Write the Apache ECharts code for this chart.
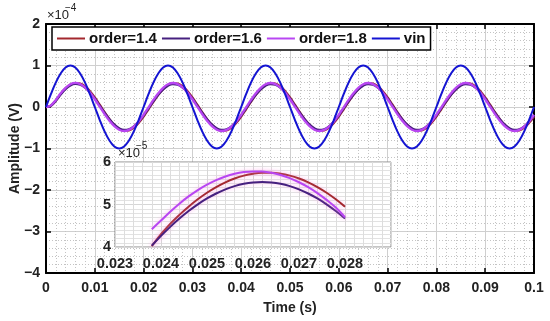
<!DOCTYPE html>
<html>
<head>
<meta charset="utf-8">
<script src="https://cdn.jsdelivr.net/npm/echarts@6/dist/echarts.min.js"></script>
<style>
html,body{margin:0;padding:0;background:#fff;}
#chart{width:550px;height:321px;}
</style>
</head>
<body>
<div id="chart"></div>
<script>
// ---- data (main plot: amplitude in units of 1e-4 V) ----
var time = [0,0.001,0.002,0.003,0.004,0.005,0.006,0.007,0.008,0.009,
0.010,0.011,0.012,0.013,0.014,0.015,0.016,0.017,0.018,0.019,
0.020,0.021,0.022,0.023,0.024,0.025,0.026,0.027,0.028,0.029,
0.030,0.031,0.032,0.033,0.034,0.035,0.036,0.037,0.038,0.039,
0.040,0.041,0.042,0.043,0.044,0.045,0.046,0.047,0.048,0.049,
0.050,0.051,0.052,0.053,0.054,0.055,0.056,0.057,0.058,0.059,
0.060,0.061,0.062,0.063,0.064,0.065,0.066,0.067,0.068,0.069,
0.070,0.071,0.072,0.073,0.074,0.075,0.076,0.077,0.078,0.079,
0.080,0.081,0.082,0.083,0.084,0.085,0.086,0.087,0.088,0.089,
0.090,0.091,0.092,0.093,0.094,0.095,0.096,0.097,0.098,0.099,0.100];

var vin = [0,0.309,0.588,0.809,0.951,1,0.951,0.809,0.588,0.309,0,-0.309,-0.588,-0.809,-0.951,-1,-0.951,-0.809,-0.588,-0.309,
0,0.309,0.588,0.809,0.951,1,0.951,0.809,0.588,0.309,0,-0.309,-0.588,-0.809,-0.951,-1,-0.951,-0.809,-0.588,-0.309,
0,0.309,0.588,0.809,0.951,1,0.951,0.809,0.588,0.309,0,-0.309,-0.588,-0.809,-0.951,-1,-0.951,-0.809,-0.588,-0.309,
0,0.309,0.588,0.809,0.951,1,0.951,0.809,0.588,0.309,0,-0.309,-0.588,-0.809,-0.951,-1,-0.951,-0.809,-0.588,-0.309,
0,0.309,0.588,0.809,0.951,1,0.951,0.809,0.588,0.309,0,-0.309,-0.588,-0.809,-0.951,-1,-0.951,-0.809,-0.588,-0.309,0];

var order14 = [0,0.03,0.15,0.31,0.45,0.54,0.575,0.561,0.495,0.380,0.228,0.054,-0.125,-0.293,-0.431,-0.528,-0.572,-0.561,-0.495,-0.380,
-0.228,-0.054,0.125,0.293,0.431,0.528,0.572,0.561,0.495,0.380,0.228,0.054,-0.125,-0.293,-0.431,-0.528,-0.572,-0.561,-0.495,-0.380,
-0.228,-0.054,0.125,0.293,0.431,0.528,0.572,0.561,0.495,0.380,0.228,0.054,-0.125,-0.293,-0.431,-0.528,-0.572,-0.561,-0.495,-0.380,
-0.228,-0.054,0.125,0.293,0.431,0.528,0.572,0.561,0.495,0.380,0.228,0.054,-0.125,-0.293,-0.431,-0.528,-0.572,-0.561,-0.495,-0.380,
-0.228,-0.054,0.125,0.293,0.431,0.528,0.572,0.561,0.495,0.380,0.228,0.054,-0.125,-0.293,-0.431,-0.528,-0.572,-0.561,-0.495,-0.380,-0.228];

var order16 = [0,0.03,0.15,0.30,0.43,0.52,0.555,0.536,0.467,0.352,0.204,0.035,-0.138,-0.296,-0.426,-0.514,-0.552,-0.536,-0.467,-0.352,
-0.204,-0.035,0.138,0.296,0.426,0.514,0.552,0.536,0.467,0.352,0.204,0.035,-0.138,-0.296,-0.426,-0.514,-0.552,-0.536,-0.467,-0.352,
-0.204,-0.035,0.138,0.296,0.426,0.514,0.552,0.536,0.467,0.352,0.204,0.035,-0.138,-0.296,-0.426,-0.514,-0.552,-0.536,-0.467,-0.352,
-0.204,-0.035,0.138,0.296,0.426,0.514,0.552,0.536,0.467,0.352,0.204,0.035,-0.138,-0.296,-0.426,-0.514,-0.552,-0.536,-0.467,-0.352,
-0.204,-0.035,0.138,0.296,0.426,0.514,0.552,0.536,0.467,0.352,0.204,0.035,-0.138,-0.296,-0.426,-0.514,-0.552,-0.536,-0.467,-0.352,-0.204];

var order18 = [0,0.04,0.17,0.33,0.46,0.55,0.58,0.552,0.473,0.347,0.187,0.009,-0.170,-0.332,-0.462,-0.547,-0.578,-0.552,-0.473,-0.347,
-0.187,-0.009,0.170,0.332,0.462,0.547,0.578,0.552,0.473,0.347,0.187,0.009,-0.170,-0.332,-0.462,-0.547,-0.578,-0.552,-0.473,-0.347,
-0.187,-0.009,0.170,0.332,0.462,0.547,0.578,0.552,0.473,0.347,0.187,0.009,-0.170,-0.332,-0.462,-0.547,-0.578,-0.552,-0.473,-0.347,
-0.187,-0.009,0.170,0.332,0.462,0.547,0.578,0.552,0.473,0.347,0.187,0.009,-0.170,-0.332,-0.462,-0.547,-0.578,-0.552,-0.473,-0.347,
-0.187,-0.009,0.170,0.332,0.462,0.547,0.578,0.552,0.473,0.347,0.187,0.009,-0.170,-0.332,-0.462,-0.547,-0.578,-0.552,-0.473,-0.347,-0.187];

// ---- inset data (amplitude in units of 1e-5 V) ----
var insetTime = [0.0238,0.0240,0.0242,0.0244,0.0246,0.0248,0.0250,0.0252,0.0254,0.0256,0.0258,
0.0260,0.0262,0.0264,0.0266,0.0268,0.0270,0.0272,0.0274,0.0276,0.0278,0.0280];
var inset14 = [4.02,4.30,4.544,4.756,4.949,5.123,5.277,5.410,5.522,5.611,5.679,5.725,5.747,5.747,5.725,5.679,5.611,5.522,5.410,5.277,5.123,4.949];
var inset16 = [4.031,4.261,4.474,4.669,4.846,5.004,5.142,5.259,5.356,5.432,5.486,5.519,5.530,5.519,5.486,5.432,5.356,5.259,5.142,5.004,4.846,4.669];
var inset18 = [4.42,4.622,4.831,5.020,5.190,5.340,5.468,5.575,5.660,5.722,5.762,5.779,5.774,5.745,5.694,5.620,5.524,5.407,5.268,5.108,4.928,4.70];

var seriesNames = ['order=1.4','order=1.6','order=1.8','vin'];
var seriesColors = ['#A3282E','#46207F','#B846F2','#1414D2'];

// tick labels
var mainYTicks = {min:-4, max:2, interval:1};
var mainXTicks = {min:0, max:0.1, interval:0.01};
var insetXTicks = {min:0.023, max:0.029, interval:0.001, lastLabel:0.028};
var insetYTicks = {min:4, max:6, interval:1};

function pairs(xs, ys){ return xs.map(function(x,i){ return [x, ys[i]]; }); }

var FONT = '"Liberation Sans", Arial, Helvetica, sans-serif';
var chart = echarts.init(document.getElementById('chart'), null, {renderer:'canvas'});

function mainX(pos, showLabel){
  return {
    type:'value', gridIndex:0, position:pos, min:mainXTicks.min, max:mainXTicks.max, interval:mainXTicks.interval,
    axisLine:{show:true, onZero:false, lineStyle:{color:'#000', width:2}},
    axisTick:{show:true, inside:true, length:5, lineStyle:{color:'#000', width:1.5}},
    axisLabel:{show:showLabel, color:'#222', fontFamily:FONT, fontWeight:'bold', fontSize:14, margin:8,
      formatter:function(v){ return v===0 ? '0' : String(parseFloat(v.toFixed(3))); }},
    splitLine:{show:showLabel, lineStyle:{color:'#cfcfcf', width:1}},
    minorTick:{show:false, splitNumber:5},
    minorSplitLine:{show:showLabel, lineStyle:{color:'#c4c4c4', width:1, type:[1,2]}},
    name: showLabel ? 'Time (s)' : '', nameLocation:'middle', nameGap:28, nameMoveOverlap:false,
    nameTextStyle:{color:'#222', fontFamily:FONT, fontWeight:'bold', fontSize:14}
  };
}
function mainY(pos, showLabel){
  return {
    type:'value', gridIndex:0, position:pos, min:mainYTicks.min, max:mainYTicks.max, interval:mainYTicks.interval,
    axisLine:{show:true, onZero:false, lineStyle:{color:'#000', width:2}},
    axisTick:{show:true, inside:true, length:5, lineStyle:{color:'#000', width:1.5}},
    axisLabel:{show:showLabel, color:'#222', fontFamily:FONT, fontWeight:'bold', fontSize:14, margin:6,
      formatter:function(v){ return String(v).replace('-', '\u2212'); }},
    splitLine:{show:showLabel, lineStyle:{color:'#cfcfcf', width:1}},
    minorTick:{show:false, splitNumber:5},
    minorSplitLine:{show:showLabel, lineStyle:{color:'#c4c4c4', width:1, type:[1,2]}},
    name: showLabel ? 'Amplitude (V)' : '', nameLocation:'middle', nameGap:24, nameRotate:90, nameMoveOverlap:false,
    nameTextStyle:{color:'#222', fontFamily:FONT, fontWeight:'bold', fontSize:14}
  };
}

var mainData = [order14, order16, order18, vin];
var series = [];
for (var i=0;i<4;i++){
  series.push({
    name:seriesNames[i], type:'line', xAxisIndex:0, yAxisIndex:0,
    data:pairs(time, mainData[i]), smooth:0.4, symbol:'none', showSymbol:false,
    lineStyle:{color:seriesColors[i], width:(i<3?2.3:2)}, itemStyle:{color:seriesColors[i]},
    z: 2+i, silent:true
  });
}
var insetData = [inset14, inset16, inset18];
for (var j=0;j<3;j++){
  series.push({
    name:seriesNames[j]+' ', type:'line', xAxisIndex:2, yAxisIndex:2, zlevel:1,
    data:pairs(insetTime, insetData[j]), smooth:0.4, symbol:'none', showSymbol:false,
    lineStyle:{color:seriesColors[j], width:2, shadowColor:'rgba(255,150,230,0.6)', shadowBlur:4},
    itemStyle:{color:seriesColors[j]}, z:2+j, silent:true
  });
}

var option = {
  animation:false,
  backgroundColor:'#fff',
  grid:[
    {left:46, right:16, top:24, bottom:48, show:true, backgroundColor:'#fff', borderWidth:0, containLabel:false, outerBoundsMode:'none'},
    {left:115, top:162, width:276, height:85, show:true, backgroundColor:'#fff', borderColor:'#8a8a8a', borderWidth:1, zlevel:1, z:0, containLabel:false, outerBoundsMode:'none'}
  ],
  legend:{
    data:seriesNames, left:52, top:27, orient:'horizontal',
    borderColor:'#000', borderWidth:1.5, backgroundColor:'#fff', padding:[4,5],
    itemGap:5, itemWidth:28, itemHeight:2, icon:'rect',
    textStyle:{color:'#111', fontFamily:FONT, fontWeight:'bold', fontSize:15, padding:[0,0,0,-1]},
    selectedMode:false, z:10
  },
  xAxis:[
    mainX('bottom', true),
    mainX('top', false),
    {
      type:'value', gridIndex:1, zlevel:1, min:insetXTicks.min, max:insetXTicks.max, interval:insetXTicks.interval,
      axisLine:{show:false}, axisTick:{show:false},
      axisLabel:{color:'#222', fontFamily:FONT, fontWeight:'bold', fontSize:14.5, margin:9,
        formatter:function(v){ if (v > insetXTicks.lastLabel + 0.0005) return ''; return v.toFixed(3); }},
      splitLine:{show:true, lineStyle:{color:'#d6d6d6', width:1}},
      minorTick:{show:false, splitNumber:5},
      minorSplitLine:{show:true, lineStyle:{color:'#dddddd', width:1}}
    }
  ],
  yAxis:[
    mainY('left', true),
    mainY('right', false),
    {
      type:'value', gridIndex:1, zlevel:1, min:insetYTicks.min, max:insetYTicks.max, interval:insetYTicks.interval,
      axisLine:{show:false}, axisTick:{show:false},
      axisLabel:{color:'#222', fontFamily:FONT, fontWeight:'bold', fontSize:14.5, margin:4},
      splitLine:{show:true, lineStyle:{color:'#d6d6d6', width:1}},
      minorTick:{show:false, splitNumber:10},
      minorSplitLine:{show:true, lineStyle:{color:'#e2e2e2', width:1}}
    }
  ],
  graphic:[
    {type:'text', left:47, top:9, z:20, style:{text:'\u00d710', fill:'#222', font:'13px '+FONT}},
    {type:'text', left:65, top:3, z:20, style:{text:'\u22124', fill:'#222', font:'10px '+FONT}},
    {type:'text', left:118, top:147, z:20, zlevel:1, style:{text:'\u00d710', fill:'#222', font:'13px '+FONT}},
    {type:'text', left:136, top:141, z:20, zlevel:1, style:{text:'\u22125', fill:'#222', font:'10px '+FONT}}
  ],
  series:series
};
chart.setOption(option);
</script>
</body>
</html>
